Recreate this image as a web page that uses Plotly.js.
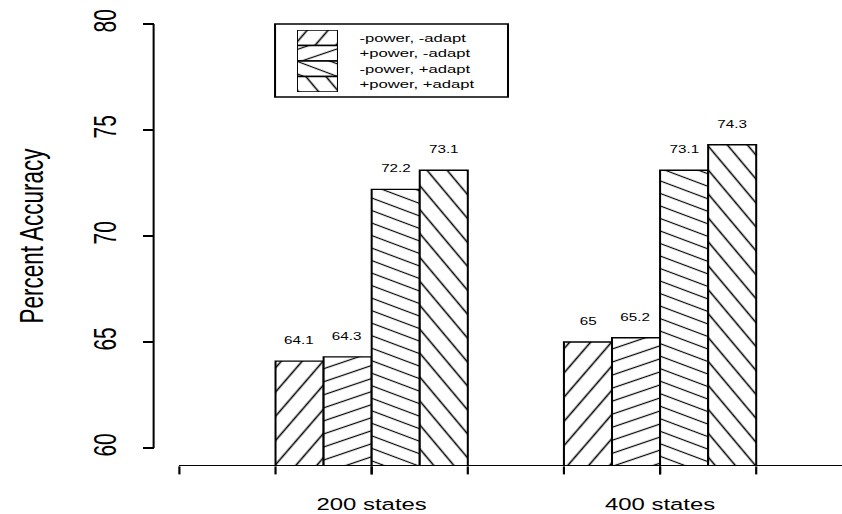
<!DOCTYPE html>
<html><head><meta charset="utf-8">
<script src="https://cdn.plot.ly/plotly-3.0.1.min.js"></script>
<style>
html,body{margin:0;padding:0;background:#fff;overflow:hidden;}
#chart{width:581px;height:514px;transform:scaleX(1.44923);transform-origin:0 0;}
#chart path.xtick{shape-rendering:geometricPrecision !important;}
</style></head><body><div id="chart"></div>
<script>
// ---- data ----
const categories = ["200 states", "400 states"];
const seriesNames = ["-power, -adapt", "+power, -adapt", "-power, +adapt", "+power, +adapt"];
const seriesValues = [
  [64.1, 65.0],
  [64.3, 65.2],
  [72.2, 73.1],
  [73.1, 74.3]
];
const yTicks = [60, 65, 70, 75, 80];
const yTitle = "Percent Accuracy";

// ---- style ----
const FONT = '"Liberation Sans", Arial, Helvetica, sans-serif';
const hatch = [
  {size: 12.4, angle: -59.2},
  {size: 11.7, angle: -26.2},
  {size: 11.0, angle: 28.5},
  {size: 12.0, angle: 59.9}
];
const bargap = 1/3;
const barW = (1 - bargap) / seriesNames.length;
const xIdx = categories.map((c, i) => i);

function markerFor(k) {
  return {
    color: 'white',
    line: {color: 'black', width: 1.4},
    pattern: {shape: '-', size: hatch[k].size, solidity: 0.1, fgcolor: 'black', bgcolor: 'white', fillmode: 'replace'}
  };
}

const traces = [];
seriesNames.forEach((name, k) => {
  traces.push({type: 'bar', x: xIdx, y: seriesValues[k], name: name, xaxis: 'x', yaxis: 'y',
    marker: markerFor(k), hoverinfo: 'skip', showlegend: false});
});
// legend swatches on a small helper subplot
seriesNames.forEach((name, k) => {
  traces.push({type: 'bar', orientation: 'h', x: [1], y: [k], base: 0, width: 1, offset: -0.5,
    xaxis: 'x2', yaxis: 'y2', marker: markerFor(k), hoverinfo: 'skip', showlegend: false});
});

const annotations = [];
seriesValues.forEach((vals, k) => vals.forEach((v, i) => {
  annotations.push({x: i + (k - (seriesNames.length - 1) / 2) * barW, y: v, xref: 'x', yref: 'y',
    text: String(v), showarrow: false, xanchor: 'center', yanchor: 'bottom', yshift: 13,
    font: {size: 10.5, family: FONT, color: 'black'}});
}));
seriesNames.forEach((name, k) => {
  annotations.push({x: 0.2954, xref: 'paper', y: k, yref: 'y2', text: name, showarrow: false,
    xanchor: 'left', yanchor: 'middle', font: {size: 11.5, family: FONT, color: 'black'}});
});

const layout = {
  width: 581, height: 514,
  margin: {l: 106, r: 0, t: 7, b: 49},
  paper_bgcolor: 'white', plot_bgcolor: 'rgba(0,0,0,0)',
  barmode: 'group', bargap: bargap, bargroupgap: 0,
  showlegend: false,
  font: {family: FONT, color: 'black'},
  xaxis: {domain: [0.0373, 1], range: [-0.667, 1.6308], tickvals: xIdx, ticktext: categories,
    ticks: 'outside', ticklen: 8, tickwidth: 1.5, tickcolor: 'black',
    showline: true, linecolor: 'black', linewidth: 1.4, showgrid: false, zeroline: false,
    tickfont: {size: 16.5, family: FONT, color: 'black'}, ticklabelstandoff: 16,
    minor: {ticks: 'outside', dtick: 1/3, tick0: 0, ticklen: 8, tickwidth: 1.5, tickcolor: 'black', showgrid: false},
    fixedrange: true},
  yaxis: {anchor: 'free', position: 0, range: [59.2, 80.8], tickvals: yTicks,
    ticks: 'outside', ticklen: 7.6, tickwidth: 1.4, tickcolor: 'black',
    showline: false, showgrid: false, zeroline: false, tickangle: -90,
    tickfont: {size: 21, family: FONT, color: 'black'}, ticklabelstandoff: 10,
    title: {text: yTitle, font: {size: 22.5, family: FONT, color: 'black'}, standoff: 23},
    fixedrange: true},
  xaxis2: {domain: [0.2082, 0.2678], range: [0, 1], visible: false, anchor: 'y2', fixedrange: true},
  yaxis2: {domain: [0.8144, 0.9498], range: [3.5, -0.5], visible: false, anchor: 'x2', fixedrange: true},
  shapes: [
    {type: 'line', xref: 'paper', x0: 0, x1: 0, yref: 'y', y0: yTicks[0], y1: yTicks[yTicks.length - 1],
      line: {color: 'black', width: 1.4}, layer: 'above'},
    {type: 'rect', xref: 'paper', x0: 0.1764, x1: 0.5148, yref: 'paper', y0: 0.8035, y1: 0.9629,
      line: {color: 'black', width: 1.4}, fillcolor: 'rgba(0,0,0,0)', layer: 'above'}
  ],
  annotations: annotations
};

Plotly.newPlot('chart', traces, layout, {staticPlot: true, displayModeBar: false}).then(gd => {
  gd.querySelectorAll('pattern').forEach(p => {
    const w = parseFloat(p.getAttribute('width'));
    let best = null, bd = 1e9;
    hatch.forEach(h => { const d = Math.abs(h.size - w); if (d < bd) { bd = d; best = h; } });
    if (best) p.setAttribute('patternTransform', 'rotate(' + best.angle + ')');
  });
  gd.querySelectorAll('path.xtick').forEach(p => {
    p.style.shapeRendering = 'geometricPrecision';
    p.setAttribute('shape-rendering', 'geometricPrecision');
  });
});
</script></body></html>
